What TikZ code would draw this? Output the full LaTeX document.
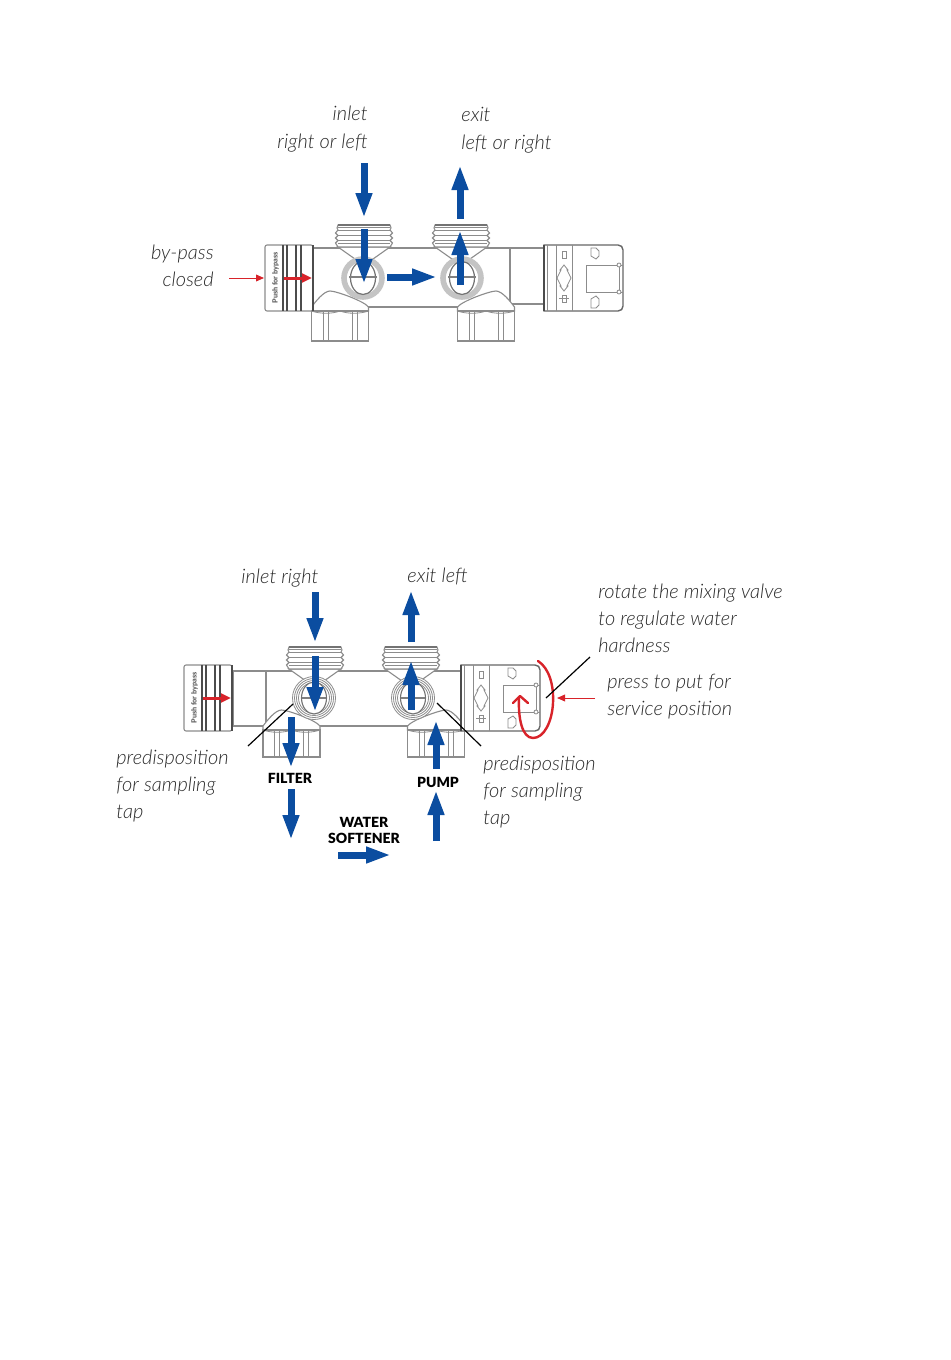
\documentclass[tikz,border=0pt]{standalone}
\usepackage{fontspec}
\setmainfont{Lato}[ItalicFont={Lato Light Italic},BoldFont={Lato Black}]
\usetikzlibrary{arrows.meta}
\definecolor{flowblue}{HTML}{0B4DA0}
\definecolor{markred}{HTML}{D8232A}
\definecolor{ringgrey}{HTML}{C4C4C4}
\definecolor{partline}{HTML}{8C8C8C}
\definecolor{labelgrey}{HTML}{2A2A2A}
\tikzset{
  flow/.style={draw=flowblue,line width=3.5pt,-{Triangle[length=12.5pt,width=7.6pt]}},
  redflow/.style={draw=markred,line width=1.5pt,-{Triangle[length=5pt,width=4.4pt]}},
  thinred/.style={draw=markred,line width=.5pt,-{Triangle[length=4pt,width=3.4pt]}},
  leader/.style={draw=black,line width=.6pt},
  part/.style={draw=partline,line width=.55pt,fill=white},
  partthin/.style={draw=partline,line width=.4pt},
  band/.style={draw=black!70,line width=.8pt},
  caption/.style={font=\fontsize{10pt}{13.5pt}\selectfont\itshape,text=labelgrey,inner sep=0pt,align=left},
  captionr/.style={caption,align=right},
  tag/.style={font=\fontsize{7pt}{8pt}\selectfont\bfseries,text=black,inner sep=0pt,align=center},
  pushtext/.style={font=\fontsize{3.6pt}{4pt}\selectfont\bfseries,text=black!60,inner sep=0pt,rotate=90},
}
% bypass knob: #1 left edge, #2 vertical centre
\newcommand\bypassknob[2]{\begin{scope}[shift={(#1,#2)}]
  \draw[part,rounded corners=1pt] (0,-33) rectangle (48,33);
  \foreach \q in {18,22,31,36}{\draw[band] (\q,-33) -- (\q,33);}
  \draw[band,line width=1pt] (48,-33) -- (48,33);
  \node[pushtext] at (10.5,0) {Push for bypass};
\end{scope}}
% mixing knob: #1 left edge, #2 vertical centre
\newcommand\mixknob[2]{\begin{scope}[shift={(#1,#2)}]
  \draw[part,line width=.7pt,draw=black!60] (0,-33) -- (74,-33) .. controls (77,-33) and (79,-31) .. (79,-28) -- (79,28) .. controls (79,31) and (77,33) .. (74,33) -- (0,33) -- cycle;
  \foreach \q in {3,12,28}{\draw[partthin] (\q,-33) -- (\q,33);}
  \draw[band] (0,-33) -- (0,33);
  \draw[partthin] (42,-13) rectangle (75,14);
  \draw[partthin] (75,-13) -- (79,-13) (75,14) -- (79,14);
  \draw[partthin,fill=white] (75,-13) circle (2) (75,14) circle (2);
  \draw[partthin] (20,-13) -- (24,-8) -- (23,-8) -- (27,0) -- (23,8) -- (24,8) -- (20,13) -- (16,8) -- (17,8) -- (13,0) -- (17,-8) -- (16,-8) -- cycle;
  \draw[partthin] (18,-27) rectangle (22,-20);
  \draw[partthin] (18,17) rectangle (22,24);
  \draw[partthin] (15,20) -- (25,20);
  \draw[partthin] (47,-30) -- (47,-22) -- (52,-19) -- (55,-22) -- (55,-27) -- (52,-30) -- cycle;
  \draw[partthin] (47,30) -- (47,21) -- (52,18) -- (55,21) -- (55,27) -- (52,30) -- cycle;
\end{scope}}
% threaded top connection: #1 centre x, #2 top y
\newcommand\threadcap[2]{\begin{scope}[shift={(#1,#2)}]
  \draw[part] (-26,22) -- (-9,34) -- (9,34) -- (26,22) -- cycle;
  \draw[part] (-26,0) -- (26,0) -- (27,3) -- (26,5) -- (28.5,8) -- (26,10.5) -- (28.5,13) -- (26,15.5) -- (28.5,18) -- (26,22) -- (-26,22) -- (-28.5,18) -- (-26,15.5) -- (-28.5,13) -- (-26,10.5) -- (-28.5,8) -- (-26,5) -- (-27,3) -- cycle;
  \draw[draw=black!55,line width=.6pt] (-26,0) -- (26,0);
  \foreach \q in {5,10.5,15.5,18}{\draw[partthin] (-26,\q) -- (26,\q);}
  \draw[partthin] (-26,2.5) -- (26,2.5);
\end{scope}}
% threaded bottom connection: #1 centre x, #2 top y, #3 height, #4 shoulder direction
\newcommand\lowernut[4]{\begin{scope}[shift={(#1,#2)}]
  \draw[part] (-28.5,-4) .. controls (-24,-10) and (#4*10-6,-20) .. (#4*10,-20) .. controls (#4*10+6,-20) and (24,-10) .. (28.5,-4) -- (28.5,0) -- (-28.5,0) -- cycle;
  \draw[part] (-28.5,0) rectangle (28.5,#3);
  \foreach \q in {-17,-12,12,17}{\draw[partthin] (\q,0) -- (\q,#3);}
  \draw[partthin] (-28.5,0) .. controls (-20,3) and (-8,3) .. (0,0) .. controls (8,3) and (20,3) .. (28.5,0);
\end{scope}}
\begin{document}
\begin{tikzpicture}[x=.5pt,y=-.5pt]
\fill[white] (0,0) rectangle (950,1360);
\useasboundingbox (0,0) rectangle (950,1360);

% ---------- upper valve ----------
\draw[part] (313,248) rectangle (510,307);
\draw[part] (510,248) rectangle (544,304);
\threadcap{364}{225}
\threadcap{461}{225}
\lowernut{340}{311}{30}{-1}
\lowernut{486}{311}{30}{1}
\foreach \c in {363,462}{
  \draw[draw=ringgrey,line width=2.8pt,fill=white] (\c,278) circle (19);
  \draw[draw=black!55,line width=.6pt] (\c,278) ellipse (12.5 and 16.5);
  \draw[draw=black!50,line width=1.4pt] (\c-14,277) -- (\c+14,277);
}
\bypassknob{265}{278}
\mixknob{544}{278}

\draw[flow] (364,163) -- (364,218);
\draw[flow] (364,229) -- (364,284);
\draw[flow] (387,277) -- (437,277);
\draw[flow] (460,219) -- (460,165);
\draw[flow] (460,285) -- (460,230);
\draw[redflow] (284,278) -- (312,278);
\draw[thinred] (229,278) -- (264,278);

\node[captionr,anchor=base east] (inlet) at (368,120) {inlet};
\node[captionr,anchor=base east] (inletb) at (368,148) {right or left};
\node[caption,anchor=base west] (exit) at (461,121) {exit};
\node[caption,anchor=base west] (exitb) at (461,149) {left or right};
\node[captionr,anchor=base east] (bypass) at (214,259) {by-pass};
\node[captionr,anchor=base east] (closed) at (214,286) {closed};

% ---------- lower valve ----------
\draw[part] (233,671) rectangle (266,726);
\draw[part] (266,671) rectangle (461,726);
\threadcap{315}{647}
\threadcap{411}{647}
\lowernut{291.5}{730}{27}{-1}
\lowernut{436}{730}{27}{1}
\foreach \c in {314,413}{
  \draw[partthin,fill=white] (\c,698) circle (21.5);
  \foreach \r in {19.5,17.5,15.5}{\draw[partthin] (\c,698) circle (\r);}
  \draw[part,draw=black!55] (\c,698) ellipse (12.5 and 16);
  \draw[draw=black!50,line width=1.2pt] (\c-12,698) -- (\c+12,698);
}
\bypassknob{184}{698}
\mixknob{461}{698}

\draw[flow] (315,592) -- (315,643);
\draw[flow] (315,656) -- (315,712);
\draw[flow] (411,642) -- (411,590);
\draw[flow] (411,710) -- (411,660);
\draw[flow] (291,717) -- (291,768);
\draw[flow] (291,789) -- (291,840);
\draw[flow] (436,769) -- (436,720);
\draw[flow] (436,841) -- (436,790);
\draw[flow] (338,855) -- (391,855);
\draw[redflow] (203,698) -- (231,698);
\draw[thinred] (595,698) -- (557,698);

\draw[draw=markred,line width=1.2pt,line cap=round] (538,661) .. controls (549,668) and (554,685) .. (553,703) .. controls (552,722) and (544,738) .. (533,738) .. controls (522,738) and (518,718) .. (519,697);
\draw[draw=markred,line width=1.2pt,line cap=round,line join=round] (513,703) -- (520,696) -- (528,703);

\coordinate (lefttip) at (293,704);
\coordinate (leftfoot) at (248,746);
\coordinate (righttip) at (437,703);
\coordinate (rightfoot) at (481,746);
\coordinate (knobtip) at (546,698);
\coordinate (rotatefoot) at (590,657);
\draw[leader] (lefttip) -- (leftfoot);
\draw[leader] (righttip) -- (rightfoot);
\draw[leader] (knobtip) -- (rotatefoot);

\node[caption,anchor=base west] (inr) at (241,583) {inlet right};
\node[caption,anchor=base west] (exl) at (407,582) {exit left};
\node[caption,anchor=base west] (rot1) at (598,598) {rotate the mixing valve};
\node[caption,anchor=base west] (rot2) at (598,625) {to regulate water};
\node[caption,anchor=base west] (rot3) at (598,652) {hardness};
\node[caption,anchor=base west] (prs1) at (607,688) {press to put for};
\node[caption,anchor=base west] (prs2) at (607,715) {service position};
\node[caption,anchor=base west] (pl1) at (116,764) {predisposition};
\node[caption,anchor=base west] (pl2) at (116,791) {for sampling};
\node[caption,anchor=base west] (pl3) at (116,818) {tap};
\node[caption,anchor=base west] (pr1) at (483,770) {predisposition};
\node[caption,anchor=base west] (pr2) at (483,797) {for sampling};
\node[caption,anchor=base west] (pr3) at (483,824) {tap};
\node[tag] (filter) at (290,778) {FILTER};
\node[tag] (pump) at (438,782) {PUMP};
\node[tag] (soft) at (364,830) {WATER\\SOFTENER};
\end{tikzpicture}
\end{document}
